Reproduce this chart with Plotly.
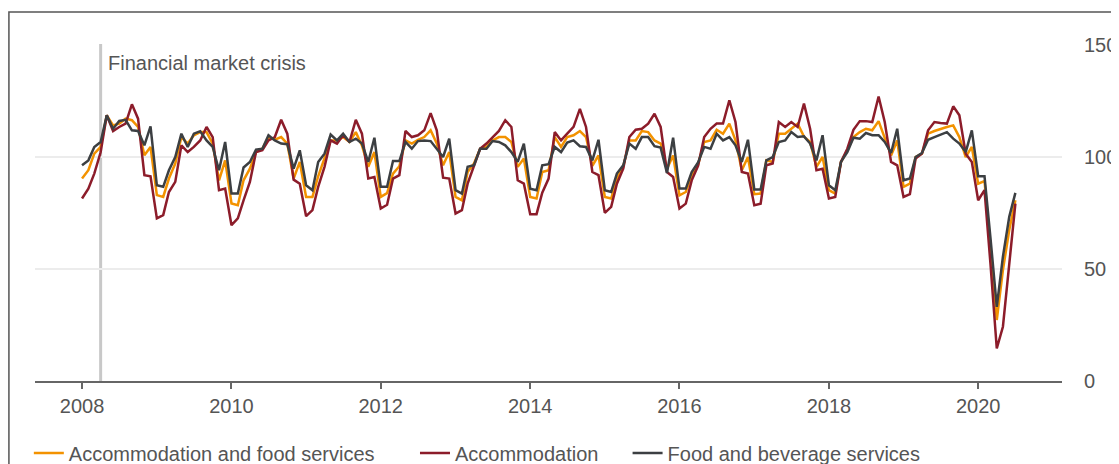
import pandas as pd
import plotly.graph_objects as go

months = pd.date_range("2008-01-01", "2020-07-01", freq="MS")

# Accommodation and food services
total = [
    90.3, 94.0, 101.4, 104.4, 118.5, 114.0, 114.8, 117.0, 116.3, 113.3, 100.7, 104.4,
    82.9, 82.1, 90.3, 97.0, 108.8, 105.9, 109.6, 111.0, 111.0, 105.9, 89.5, 98.4,
    79.2, 78.4, 89.5, 94.7, 102.1, 103.6, 108.8, 107.6, 108.8, 105.9, 90.3, 97.7,
    82.1, 82.1, 91.3, 99.2, 107.3, 107.3, 108.8, 106.6, 111.0, 105.1, 95.5, 102.1,
    82.1, 83.8, 92.5, 95.8, 107.3, 105.9, 107.6, 108.8, 111.8, 105.9, 96.2, 102.1,
    82.1, 80.6, 93.2, 97.0, 103.6, 104.4, 107.3, 108.8, 108.8, 106.6, 95.5, 99.2,
    82.1, 81.4, 93.2, 94.0, 108.8, 104.4, 108.8, 109.6, 111.5, 108.8, 96.0, 100.6,
    82.1, 81.4, 90.3, 95.5, 107.3, 107.3, 111.5, 111.0, 107.3, 105.9, 94.7, 100.6,
    82.8, 84.3, 91.8, 96.5, 106.6, 107.3, 112.1, 110.3, 114.8, 107.3, 94.0, 99.9,
    83.3, 83.6, 98.4, 97.7, 110.3, 110.3, 112.5, 114.8, 109.0, 106.6, 95.5, 99.9,
    85.1, 83.6, 97.7, 102.9, 108.8, 111.0, 112.5, 111.8, 115.9, 108.1, 100.6, 107.3,
    86.6, 88.0, 99.9, 101.4, 110.3, 111.5, 112.5, 113.3, 114.0, 108.8, 99.9, 104.4,
    88.0, 89.2, 59.9, 27.2, 49.5, 67.3, 80.6,
]

# Accommodation
accommodation = [
    81.4, 85.8, 92.5, 102.0, 118.5, 111.5, 113.3, 114.8, 123.4, 117.0, 91.8, 91.3,
    72.5, 74.0, 84.3, 88.8, 105.1, 102.1, 104.4, 107.3, 113.3, 108.8, 85.1, 85.8,
    69.5, 72.5, 80.6, 88.8, 102.1, 102.9, 107.3, 108.8, 116.5, 110.3, 89.8, 88.0,
    73.5, 76.2, 86.6, 95.5, 107.3, 105.9, 109.6, 106.6, 116.5, 110.3, 90.3, 91.0,
    76.9, 78.6, 90.3, 91.8, 111.5, 108.8, 109.6, 111.8, 119.5, 111.8, 90.7, 90.3,
    74.7, 76.2, 88.0, 95.5, 103.6, 105.9, 108.8, 111.5, 116.3, 113.3, 89.5, 88.0,
    74.4, 74.4, 84.0, 90.3, 111.0, 107.3, 110.3, 113.3, 121.4, 113.3, 93.2, 91.8,
    75.0, 77.7, 88.0, 94.7, 108.8, 112.1, 112.5, 114.8, 119.2, 113.3, 93.2, 91.0,
    76.9, 79.1, 89.5, 96.0, 108.8, 112.5, 114.8, 114.8, 125.2, 115.5, 93.2, 92.5,
    78.4, 79.1, 96.2, 97.0, 115.5, 113.3, 115.5, 113.3, 123.7, 112.5, 94.0, 94.7,
    81.4, 82.1, 97.7, 103.6, 112.0, 115.9, 115.9, 115.5, 126.9, 115.5, 97.7, 96.2,
    82.1, 83.3, 99.2, 101.4, 111.8, 115.5, 115.1, 114.8, 122.5, 118.5, 101.4, 97.7,
    80.6, 85.1, 52.4, 14.5, 24.2, 50.9, 79.1,
]

# Food and beverage services
food_bev = [
    96.2, 98.4, 104.4, 106.6, 118.5, 112.5, 116.0, 116.5, 111.8, 111.5, 105.1, 113.6,
    87.3, 86.6, 94.0, 99.9, 110.3, 104.4, 110.3, 111.4, 107.3, 104.4, 94.0, 106.6,
    83.6, 83.6, 95.2, 97.7, 103.2, 103.6, 109.6, 107.3, 105.9, 105.6, 94.7, 102.9,
    87.3, 85.1, 97.7, 101.4, 109.9, 107.3, 110.3, 106.6, 108.1, 105.9, 97.7, 108.5,
    86.6, 86.6, 98.1, 98.1, 106.6, 103.6, 107.0, 107.3, 107.0, 103.6, 99.9, 108.1,
    85.1, 83.6, 95.5, 96.2, 103.6, 103.6, 107.0, 106.6, 105.1, 102.1, 97.7, 105.9,
    85.8, 85.1, 96.2, 96.7, 104.4, 102.1, 106.3, 107.3, 104.7, 104.4, 98.4, 107.6,
    85.1, 84.3, 92.5, 96.2, 105.9, 103.6, 108.8, 108.8, 104.7, 104.1, 92.8, 108.5,
    85.8, 85.8, 93.2, 97.5, 104.4, 103.6, 110.3, 107.3, 108.8, 105.1, 97.7, 107.6,
    85.4, 85.4, 98.4, 99.9, 106.6, 107.3, 111.0, 108.8, 109.1, 105.9, 98.4, 109.6,
    87.3, 85.1, 97.7, 102.1, 108.5, 108.1, 110.6, 109.6, 109.6, 106.6, 101.7, 112.5,
    89.5, 90.3, 99.9, 101.7, 107.6, 108.8, 110.0, 111.0, 108.1, 105.9, 102.1, 111.8,
    91.3, 91.3, 64.0, 33.1, 55.4, 73.2, 83.9,
]

crisis_date = "2008-04-01"
crisis_label = "Financial market crisis"

font = "Arial, Liberation Sans, sans-serif"
grey_text = "#555555"

fig = go.Figure()
fig.add_trace(go.Scatter(x=months, y=total, name="Accommodation and food services",
                         mode="lines", line=dict(color="#F39200", width=2.5), legend="legend"))
fig.add_trace(go.Scatter(x=months, y=accommodation, name="Accommodation",
                         mode="lines", line=dict(color="#8C1C2A", width=2.5), legend="legend2"))
fig.add_trace(go.Scatter(x=months, y=food_bev, name="Food and beverage services",
                         mode="lines", line=dict(color="#3C3F42", width=2.5), legend="legend3"))

# crisis marker
fig.add_shape(type="line", x0=crisis_date, x1=crisis_date, y0=0, y1=1,
              xref="x", yref="paper", line=dict(color="#c8c8c8", width=3), layer="below")
fig.add_annotation(x=crisis_date, y=0.945, xref="x", yref="paper", text=crisis_label,
                   showarrow=False, xanchor="left", yanchor="middle", xshift=5,
                   font=dict(size=20, color=grey_text, family=font))

# outer frame
fig.add_shape(type="rect", xref="paper", yref="paper", x0=-0.0254, x1=1.07,
              y0=-0.3, y1=1.095, line=dict(color="#555555", width=1.5))

legend_style = dict(orientation="h", xanchor="left", y=-0.2136, yanchor="middle",
                    font=dict(size=20, color=grey_text), bgcolor="rgba(0,0,0,0)")

fig.update_layout(
    width=1111, height=480,
    margin=dict(l=27, r=57, t=36, b=107, autoexpand=False),
    plot_bgcolor="white", paper_bgcolor="white",
    font=dict(family=font, size=20, color=grey_text),
    showlegend=True,
    legend=dict(x=-0.006, **legend_style),
    legend2=dict(x=0.370, **legend_style),
    legend3=dict(x=0.577, **legend_style),
    xaxis=dict(
        range=["2007-05-16", "2021-02-14"],
        tick0="2008-01-01", dtick="M24", tickformat="%Y",
        showgrid=False, showline=True, linecolor="#666666", linewidth=1.5,
        ticks="outside", ticklen=6, tickcolor="#666666", tickwidth=1.5,
        tickfont=dict(size=20, color=grey_text), automargin=False,
    ),
    yaxis=dict(
        range=[0, 150.3], side="right", tickvals=[0, 50, 100, 150],
        showgrid=True, gridcolor="#ececec", gridwidth=1.5, zeroline=False,
        showline=False, ticks="", ticklabelstandoff=21, automargin=False,
        tickfont=dict(size=20, color=grey_text),
    ),
)

fig.write_html("out.html")
